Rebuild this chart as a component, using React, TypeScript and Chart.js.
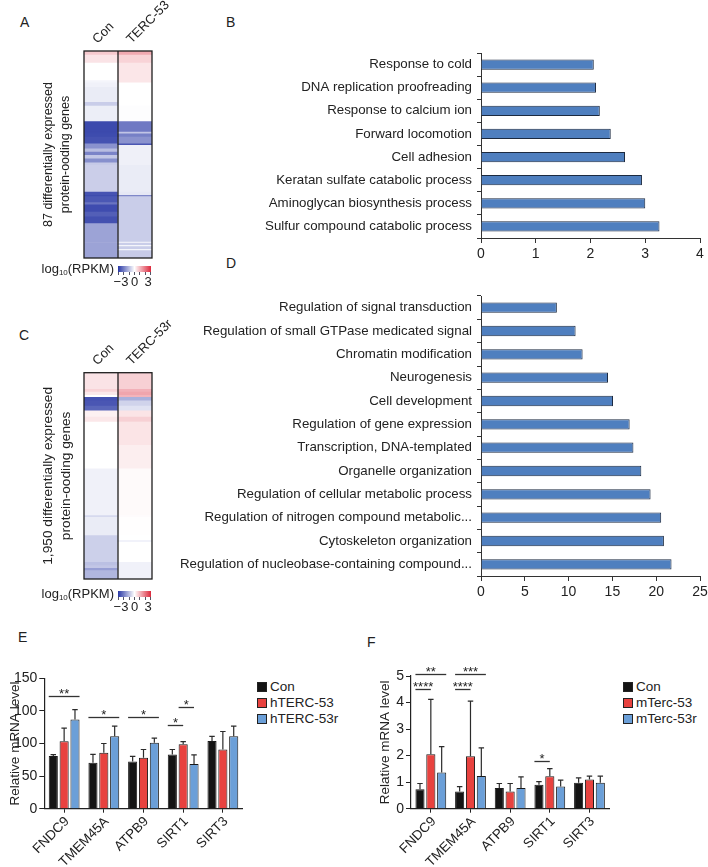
import React, { useEffect, useRef } from "react";
import { Chart, registerables } from "chart.js";

Chart.register(...registerables);

const FONT = '"Liberation Sans", Arial, Helvetica, sans-serif';
const INK = "#222222";
Chart.defaults.font.family = FONT;
Chart.defaults.color = INK;

// ---------- Panel A heatmap: 87 genes, log10(RPKM) per band ----------
const heatAColumns = ["Con", "TERC-53"];
const heatARows = [1.4, 3.35, 7.45, 0.9, 1.9, 6.3, 1.6, 6.5, 4.4, 0.7, 1.4, 2.8, 0.7, 1.4, 1.4, 1.4, 1.4, 1.7, 1.1, 11.2, 1.4, 0.5, 2.5, 1.0, 3.0, 2.0, 2.9, 7.7, 0.5, 0.9, 0.5, 1.2, 0.5, 3.4];
const heatACon = [0.75, 0.39, 0, -0.15, -0.21, -0.29, -0.75, -0.26, -2.72, -2.72, -2.69, -2.6, -1.63, -1.63, -0.99, -1.84, -0.84, -1.67, -0.8, -0.73, -2.58, -2.69, -2.51, -2.08, -2.68, -2.4, -2.62, -1.38, -1.38, -1.38, -1.38, -1.38, -1.38, -1.38];
const heatATerc = [1.2, 0.61, 0.35, 0.35, 0, 0, 0, -0.03, -2.01, -0.88, -1.91, -1.63, -2.53, -0.22, -0.22, -0.22, -0.22, -0.22, -0.22, -0.29, -0.35, -1.79, -0.75, -0.75, -0.75, -0.75, -0.75, -0.75, -0.15, -0.75, -0.15, -0.75, -0.15, -0.78];
const heatATitle = ["87 differentially expressed", "protein-ooding genes"];

// ---------- Panel C heatmap: 1,950 genes ----------
const heatCColumns = ["Con", "TERC-53r"];
const heatCRows = [151, 26, 31, 19, 32, 50, 44, 60, 48, 219, 222, 442, 16, 173, 47, 15, 191, 31, 25, 23, 85];
const heatCCon = [0.39, 0.61, 0.32, 0, -2.61, -2.53, -2.3, 0.2, 0.34, 0, 0, -0.21, -0.57, -0.29, -0.71, -0.71, -0.71, -0.95, -0.85, -1.45, -1.1];
const heatCTerc = [0.66, 1.1, 1.26, 1.05, -1.19, -0.66, -0.43, 0.38, 0.66, 0.38, 0.24, 0.07, 0.05, 0.02, 0, -0.25, 0, -0.21, -0.21, -0.21, -0.21];
const heatCTitle = ["1,950 differentially expressed", "protein-ooding genes"];

const colorbarTicks = ["\u22123", "0", "3"];

// ---------- Panel B ----------
const goBTerms = [
  "Response to cold",
  "DNA replication proofreading",
  "Response to calcium ion",
  "Forward locomotion",
  "Cell adhesion",
  "Keratan sulfate catabolic process",
  "Aminoglycan biosynthesis process",
  "Sulfur compound catabolic process",
];
const goBValues = [2.06, 2.1, 2.17, 2.37, 2.63, 2.94, 3.0, 3.26];

// ---------- Panel D ----------
const goDTerms = [
  "Regulation of signal transduction",
  "Regulation of small GTPase medicated signal",
  "Chromatin modification",
  "Neurogenesis",
  "Cell development",
  "Regulation of gene expression",
  "Transcription, DNA-templated",
  "Organelle organization",
  "Regulation of cellular metabolic process",
  "Regulation of nitrogen compound metabolic...",
  "Cytoskeleton organization",
  "Regulation of nucleobase-containing compound...",
];
const goDValues = [8.66, 10.8, 11.6, 14.5, 15.07, 16.97, 17.4, 18.3, 19.36, 20.57, 20.88, 21.75];

// ---------- Panel E ----------
const genes = ["FNDC9", "TMEM45A", "ATPB9", "SIRT1", "SIRT3"];
const eSeries = ["Con", "hTERC-53", "hTERC-53r"];
const eCon = [81, 70.4, 72.4, 83.2, 104];
const eConErr = [2, 12.8, 8, 7.6, 7];
const eH53 = [103.6, 85.7, 78, 99, 90.8];
const eH53Err = [20, 14.3, 12.8, 4, 27.6];
const eH53r = [136.7, 111.2, 101, 68.4, 111.2];
const eH53rErr = [15.3, 15.3, 7.2, 14.3, 15.3];
const eTickLabels = ["0", "50", "100", "100", "150"];
const eSig = [
  { gene: 0, from: 0, to: 2, level: 172.5, mark: "**" },
  { gene: 1, from: 0, to: 2, level: 140.5, mark: "*" },
  { gene: 2, from: 0, to: 2, level: 140.5, mark: "*" },
  { gene: 3, from: 0, to: 1, level: 128, mark: "*" },
  { gene: 3, from: 1, to: 2, level: 156, mark: "*" },
];

// ---------- Panel F ----------
const fSeries = ["Con", "mTerc-53", "mTerc-53r"];
const fCon = [0.73, 0.65, 0.78, 0.9, 0.98];
const fConErr = [0.22, 0.18, 0.17, 0.12, 0.18];
const fM53 = [2.05, 1.98, 0.65, 1.22, 1.1];
const fM53Err = [2.07, 2.07, 0.3, 0.29, 0.13];
const fM53r = [1.36, 1.23, 0.78, 0.84, 0.98];
const fM53rErr = [0.98, 1.06, 0.42, 0.24, 0.25];
const fSig = [
  { gene: 0, from: 0, to: 2, level: 5.07, mark: "**" },
  { gene: 0, from: 0, to: 1, level: 4.5, mark: "****" },
  { gene: 1, from: 0, to: 2, level: 5.07, mark: "***" },
  { gene: 1, from: 0, to: 1, level: 4.5, mark: "****" },
  { gene: 3, from: 0, to: 1, level: 1.81, mark: "*" },
];

const SERIES_COLORS = ["#141414", "#e8423f", "#6b9fd8"];
const GO_FILL = "#4f7fbf";

// ---------- helpers ----------
function rpkmColor(v: number): string {
  const t = Math.max(-1, Math.min(1, v / 3));
  const c = t < 0 ? [40, 55, 165] : [220, 40, 60];
  const f = Math.abs(t);
  const ch = (k: number) => Math.round(255 + (c[k] - 255) * f);
  return `rgb(${ch(0)},${ch(1)},${ch(2)})`;
}

const fixSize = (size: number) => (scale: any) => {
  if (scale.isHorizontal()) scale.height = size;
  else scale.width = size;
  scale.paddingLeft = 0;
  scale.paddingRight = 0;
  scale.paddingTop = 0;
  scale.paddingBottom = 0;
};

const heatOutline = {
  id: "heatOutline",
  afterDatasetsDraw(chart: any) {
    const { ctx, chartArea: a } = chart;
    const x = chart.scales.x;
    const mid = (x.getPixelForValue(0) + x.getPixelForValue(1)) / 2;
    ctx.save();
    ctx.strokeStyle = "#1e1e1e";
    ctx.lineWidth = 1.3;
    ctx.strokeRect(a.left, a.top, a.right - a.left, a.bottom - a.top);
    ctx.beginPath();
    ctx.moveTo(mid, a.top);
    ctx.lineTo(mid, a.bottom);
    ctx.stroke();
    ctx.restore();
  },
};

function heatmapConfig(
  columns: string[],
  rows: number[],
  conVals: number[],
  tercVals: number[],
  title: string[],
  fontSize: number,
  lineHeight: number,
  titlePad: number,
  axisH: number,
  padRight: number
): any {
  const total = rows.reduce((s, v) => s + v, 0);
  return {
    type: "bar",
    data: {
      labels: columns,
      datasets: rows.map((h, i) => ({
        data: [h, h],
        backgroundColor: [rpkmColor(conVals[i]), rpkmColor(tercVals[i])],
        borderWidth: 0,
        barPercentage: 1,
        categoryPercentage: 1,
      })),
    },
    options: {
      responsive: false,
      animation: false,
      events: [],
      layout: { padding: { top: 0, left: 0, right: padRight, bottom: 4 } },
      plugins: { legend: { display: false }, tooltip: { enabled: false } },
      scales: {
        x: {
          position: "top",
          stacked: true,
          grid: { display: false, drawTicks: false },
          border: { display: false },
          ticks: { minRotation: 45, maxRotation: 45, padding: 4, labelOffset: 5, font: { size: 13 }, color: INK },
          afterFit: fixSize(axisH),
        },
        y: {
          stacked: true,
          reverse: true,
          min: 0,
          max: total,
          grid: { display: false, drawTicks: false },
          border: { display: false },
          ticks: { display: false },
          title: {
            display: true,
            text: title,
            color: INK,
            font: { size: fontSize, lineHeight },
            padding: { top: titlePad, bottom: 0 },
          },
          afterFit: fixSize(84),
        },
      },
    },
    plugins: [heatOutline],
  };
}

function goConfig(
  terms: string[],
  values: number[],
  maxX: number,
  step: number,
  yWidth: number,
  padTop: number
): any {
  return {
    type: "bar",
    data: {
      labels: terms,
      datasets: [
        {
          data: values,
          backgroundColor: GO_FILL,
          borderColor: "#1c2a40",
          borderWidth: 1,
          barPercentage: 0.44,
          categoryPercentage: 1,
        },
      ],
    },
    options: {
      indexAxis: "y",
      responsive: false,
      animation: false,
      events: [],
      layout: { padding: { top: padTop, left: 0, right: 8, bottom: 0 } },
      plugins: { legend: { display: false }, tooltip: { enabled: false } },
      scales: {
        x: {
          min: 0,
          max: maxX,
          ticks: { stepSize: step, padding: 3, font: { size: 14 }, color: INK },
          grid: { drawOnChartArea: false, tickLength: 5, color: "#333", lineWidth: 1 },
          border: { color: "#333", width: 1 },
          afterFit: fixSize(30),
        },
        y: {
          ticks: { autoSkip: false, padding: 5, font: { size: 13.3 }, color: INK },
          grid: { drawOnChartArea: false, tickLength: 4, color: "#333", offset: true, lineWidth: 1 },
          border: { color: "#333", width: 1 },
          afterFit: fixSize(yWidth),
        },
      },
    },
  };
}

const errorBarPlugin = (id: string, errors: number[][]) => ({
  id,
  afterDatasetsDraw(chart: any) {
    const { ctx } = chart;
    const yScale = chart.scales.y;
    ctx.save();
    ctx.strokeStyle = "#2b2b2b";
    ctx.lineWidth = 1.2;
    chart.data.datasets.forEach((ds: any, i: number) => {
      const meta = chart.getDatasetMeta(i);
      meta.data.forEach((bar: any, j: number) => {
        const top = yScale.getPixelForValue(ds.data[j] + errors[i][j]);
        const half = bar.width * 0.3;
        ctx.beginPath();
        ctx.moveTo(bar.x, bar.y);
        ctx.lineTo(bar.x, top);
        ctx.moveTo(bar.x - half, top);
        ctx.lineTo(bar.x + half, top);
        ctx.stroke();
      });
    });
    ctx.restore();
  },
});

const sigPlugin = (id: string, sigs: any[], fontSize: number) => ({
  id,
  afterDatasetsDraw(chart: any) {
    const { ctx } = chart;
    const yScale = chart.scales.y;
    ctx.save();
    ctx.strokeStyle = "#333";
    ctx.fillStyle = INK;
    ctx.lineWidth = 1.3;
    ctx.font = `${fontSize}px ${FONT}`;
    ctx.textAlign = "center";
    ctx.textBaseline = "alphabetic";
    sigs.forEach((s) => {
      const a = chart.getDatasetMeta(s.from).data[s.gene];
      const b = chart.getDatasetMeta(s.to).data[s.gene];
      const x1 = a.x - a.width / 2;
      const x2 = s.to - s.from > 1 ? b.x + b.width / 2 : b.x;
      const py = Math.round(yScale.getPixelForValue(s.level)) + 0.5;
      ctx.beginPath();
      ctx.moveTo(x1, py);
      ctx.lineTo(x2, py);
      ctx.stroke();
      ctx.fillText(s.mark, (x1 + x2) / 2, py + 1);
    });
    ctx.restore();
  },
});

function qpcrConfig(
  series: string[],
  values: number[][],
  errors: number[][],
  sigs: any[],
  maxY: number,
  step: number,
  tickLabels: string[] | null,
  yWidth: number,
  padTop: number,
  padRight: number,
  titlePad: number,
  id: string
): any {
  return {
    type: "bar",
    data: {
      labels: genes,
      datasets: series.map((name, i) => ({
        label: name,
        data: values[i],
        backgroundColor: SERIES_COLORS[i],
        borderColor: "#1a1a1a",
        borderWidth: 1,
        categoryPercentage: 0.82,
        barPercentage: 0.84,
      })),
    },
    options: {
      responsive: false,
      animation: false,
      events: [],
      layout: { padding: { top: padTop, left: 0, right: padRight, bottom: 0 } },
      plugins: { legend: { display: false }, tooltip: { enabled: false } },
      scales: {
        x: {
          ticks: { autoSkip: false, minRotation: 45, maxRotation: 45, padding: 1, labelOffset: 3, font: { size: 13.5 }, color: INK },
          grid: { offset: false, drawOnChartArea: false, tickLength: 4, color: "#222" },
          border: { color: "#222", width: 1.2 },
          afterFit: fixSize(58.3),
        },
        y: {
          min: 0,
          max: maxY,
          ticks: {
            stepSize: step,
            padding: 2,
            font: { size: 14 },
            color: INK,
            callback: (v: any, i: number) => (tickLabels ? tickLabels[i] : String(v)),
          },
          grid: { drawOnChartArea: false, tickLength: 5, color: "#222" },
          border: { color: "#222", width: 1.2 },
          title: {
            display: true,
            text: "Relative mRNA level",
            color: INK,
            font: { size: 13.5 },
            padding: { top: titlePad, bottom: 0 },
          },
          afterFit: fixSize(yWidth),
        },
      },
    },
    plugins: [errorBarPlugin(id + "err", errors), sigPlugin(id + "sig", sigs, 13)],
  };
}

// ---------- components ----------
function ChartCanvas(props: { left: number; top: number; width: number; height: number; make: () => any }) {
  const ref = useRef<HTMLCanvasElement | null>(null);
  useEffect(() => {
    const chart = new Chart(ref.current as HTMLCanvasElement, props.make());
    return () => chart.destroy();
  }, []);
  return (
    <canvas
      ref={ref}
      width={props.width}
      height={props.height}
      style={{ position: "absolute", left: props.left, top: props.top, width: props.width, height: props.height }}
    />
  );
}

function Letter(props: { x: number; y: number; t: string }) {
  return (
    <div style={{ position: "absolute", left: props.x, top: props.y, fontSize: 14, lineHeight: "14px" }}>{props.t}</div>
  );
}

function ColorBar(props: { left: number; top: number }) {
  const { left, top } = props;
  return (
    <>
      <div
        style={{
          position: "absolute",
          right: 708 - left + 4,
          top: top - 5,
          fontSize: 13,
          lineHeight: "16px",
          whiteSpace: "nowrap",
        }}
      >
        log<sub style={{ fontSize: 8, verticalAlign: "-2px" }}>10</sub>(RPKM)
      </div>
      <div
        style={{
          position: "absolute",
          left,
          top,
          width: 33,
          height: 6,
          background: "linear-gradient(to right, rgb(40,55,165), #ffffff, rgb(220,40,60))",
        }}
      />
      <div
        style={{
          position: "absolute",
          left,
          top: top + 6,
          width: 33,
          height: 3,
          background: "repeating-linear-gradient(to right, #556 0px, #556 1px, transparent 1px, transparent 5.33px)",
        }}
      />
      {colorbarTicks.map((t, i) => (
        <div
          key={i}
          style={{
            position: "absolute",
            left: left + 3 + i * 13.5 - 10,
            width: 20,
            textAlign: "center",
            top: top + 9,
            fontSize: 13,
            lineHeight: "14px",
          }}
        >
          {t}
        </div>
      ))}
    </>
  );
}

function Legend(props: { left: number; top: number; names: string[] }) {
  return (
    <div style={{ position: "absolute", left: props.left, top: props.top }}>
      {props.names.map((n, i) => (
        <div key={n} style={{ display: "flex", alignItems: "center", height: 16, fontSize: 13.5, lineHeight: "16px" }}>
          <span
            style={{
              display: "inline-block",
              width: 10,
              height: 10,
              boxSizing: "border-box",
              border: "1px solid #222",
              background: SERIES_COLORS[i],
              marginRight: 3,
            }}
          />
          <span>{n}</span>
        </div>
      ))}
    </div>
  );
}

export default function App() {
  return (
    <div
      style={{
        position: "absolute",
        left: 0,
        top: 0,
        width: 708,
        height: 867,
        background: "#ffffff",
        overflow: "hidden",
        fontFamily: FONT,
        color: INK,
      }}
    >
      <Letter x={20} y={15} t="A" />
      <Letter x={226} y={15} t="B" />
      <Letter x={19} y={328} t="C" />
      <Letter x={226} y={256} t="D" />
      <Letter x={18} y={630} t="E" />
      <Letter x={367} y={635} t="F" />

      <ChartCanvas
        left={0}
        top={0}
        width={180}
        height={262}
        make={() => heatmapConfig(heatAColumns, heatARows, heatACon, heatATerc, heatATitle, 12.5, 1.336, 40, 51, 28)}
      />
      <ColorBar left={118} top={266} />

      <ChartCanvas
        left={0}
        top={300}
        width={182}
        height={283}
        make={() => heatmapConfig(heatCColumns, heatCRows, heatCCon, heatCTerc, heatCTitle, 13.7, 1.336, 39, 72.7, 30)}
      />
      <ColorBar left={118} top={591} />

      <ChartCanvas left={200} top={30} width={508} height={238} make={() => goConfig(goBTerms, goBValues, 4, 1, 281, 23)} />
      <ChartCanvas left={170} top={280} width={538} height={326} make={() => goConfig(goDTerms, goDValues, 25, 5, 311, 16)} />

      <ChartCanvas
        left={0}
        top={640}
        width={250}
        height={227}
        make={() =>
          qpcrConfig(eSeries, [eCon, eH53, eH53r], [eConErr, eH53Err, eH53rErr], eSig, 200, 50, eTickLabels, 44.3, 38.3, 7.3, 7, "e")
        }
      />
      <Legend left={257} top={679} names={eSeries} />

      <ChartCanvas
        left={358}
        top={640}
        width={256}
        height={227}
        make={() =>
          qpcrConfig(fSeries, [fCon, fM53, fM53r], [fConErr, fM53Err, fM53rErr], fSig, 5, 1, null, 53, 36, 4.7, 19, "f")
        }
      />
      <Legend left={623} top={679} names={fSeries} />
    </div>
  );
}
